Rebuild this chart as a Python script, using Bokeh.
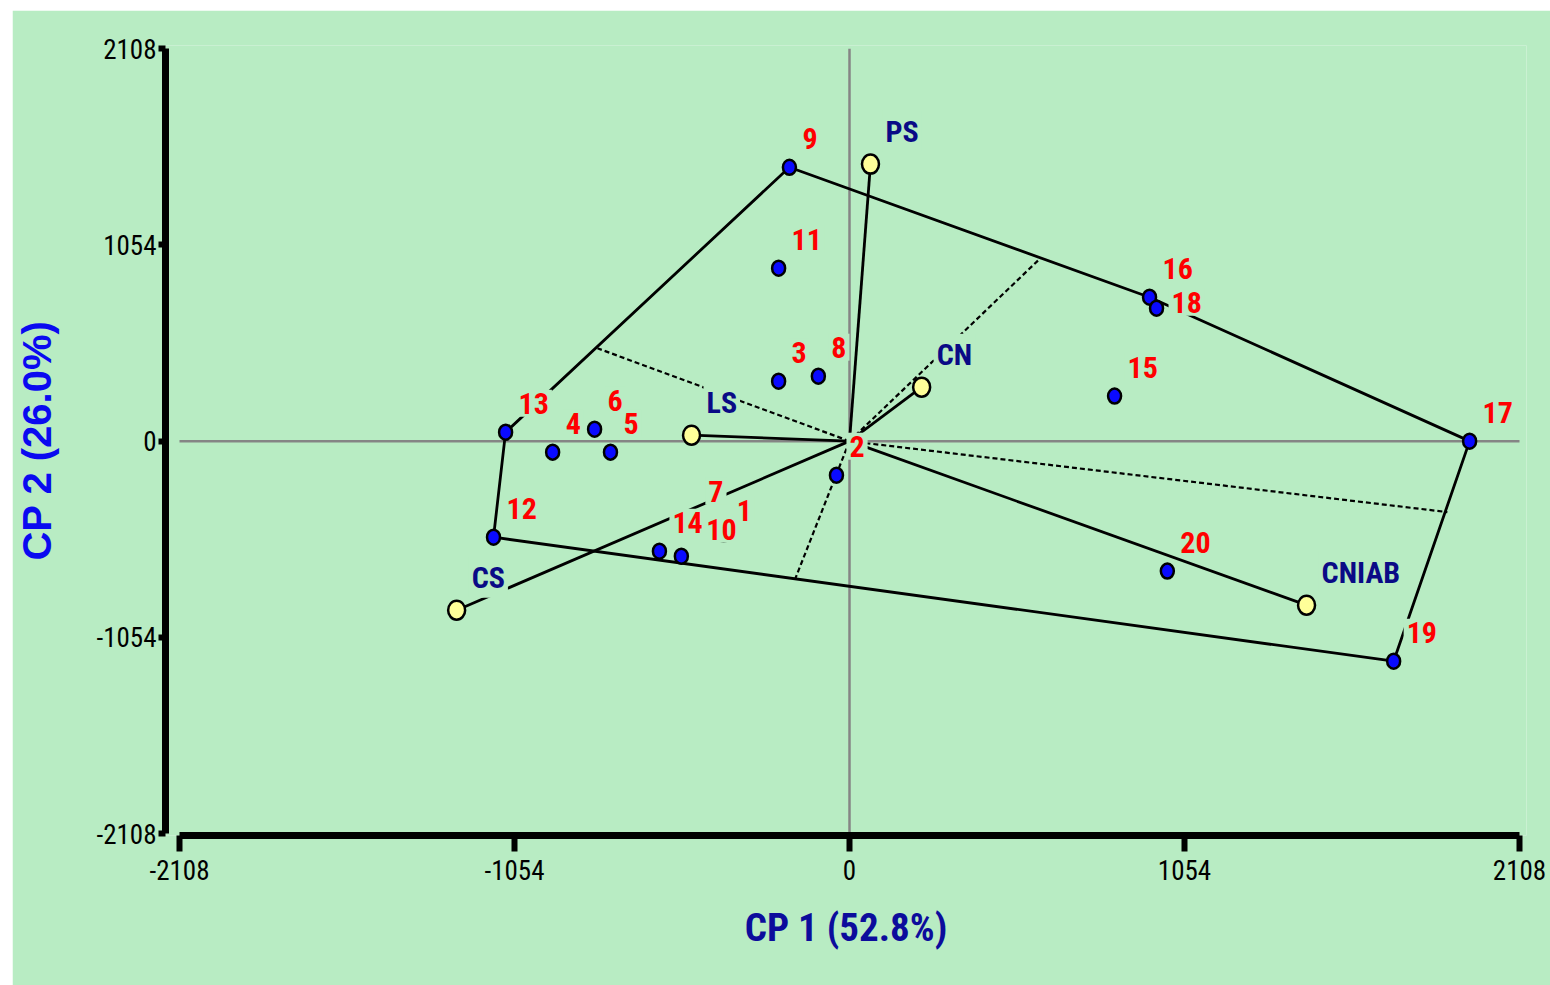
from bokeh.plotting import figure
from bokeh.models import Range1d, FixedTicker
from bokeh.core.properties import value
from bokeh.embed import file_html
from bokeh.resources import INLINE

BG = "#b8ecc3"
NARROW = "'Roboto Condensed', 'Liberation Sans Narrow', 'Liberation Sans', sans-serif"
WIDE = "'Liberation Sans', Arial, sans-serif"

# Genotypes (scores on CP1, CP2)
gen_labels = ["1", "2", "3", "4", "5", "6", "7", "8", "9", "10",
              "11", "12", "13", "14", "15", "16", "17", "18", "19", "20"]
gen_x = [-396, -41, -223, -934, -752, -802, -485, -98, -189, -529,
         -223, -1120, -1082, -598, 834, 944, 1951, 966, 1712, 1000]
gen_y = [-500, -183, 322, -59, -59, 64, -424, 349, 1471, -618,
         929, -516, 48, -591, 242, 773, 0, 714, -1182, -698]

# Environments
env_labels = ["PS", "CN", "LS", "CS", "CNIAB"]
env_x = [66, 227, -497, -1236, 1438]
env_y = [1488, 290, 32, -908, -881]

# Convex hull (polygon) vertices, by genotype label
hull = ["9", "16", "17", "19", "12", "13", "9"]

# Perpendiculars from origin to the hull sides (end points)
perp_x = [601, -793, 1881, -170]
perp_y = [983, 499, -381, -736]

ticks = [-2108, -1054, 0, 1054, 2108]
tick_text = ["-2108", "-1054", "0", "1054", "2108"]
lim = 2108

p = figure(frame_width=1361, frame_height=790,
           x_range=Range1d(-2152, 2130), y_range=Range1d(-2118, 2125),
           output_backend="svg", toolbar_location=None,
           background_fill_color=BG, border_fill_color=BG,
           min_border_left=153, min_border_top=35, min_border_right=24, min_border_bottom=150)
p.margin = (10, 0, 0, 12)
p.outline_line_color = None
p.grid.visible = False

for ax in (p.xaxis[0], p.yaxis[0]):
    ax.ticker = FixedTicker(ticks=ticks)
    ax.major_label_overrides = {t: s for t, s in zip(ticks, tick_text)}
    ax.bounds = (-lim, lim)
    ax.axis_line_width = 7
    ax.axis_line_color = "black"
    ax.major_tick_line_width = 6
    ax.major_tick_line_color = "black"
    ax.major_tick_in = 0
    ax.minor_tick_line_color = None
    ax.major_label_text_font = NARROW
    ax.major_label_text_font_size = "27px"
    ax.major_label_text_color = "black"
    ax.axis_label_text_font_style = "bold"

p.xaxis.major_tick_out = 16
p.xaxis.major_label_standoff = 8
p.yaxis.major_tick_out = 7
p.yaxis.major_label_standoff = 2

p.xaxis.axis_label = "CP 1 (52.8%)"
p.xaxis.axis_label_text_font = NARROW
p.xaxis.axis_label_text_font_size = "39px"
p.xaxis.axis_label_text_color = "#0c0c9c"
p.xaxis.axis_label_standoff = 22

p.yaxis.axis_label = "CP 2 (26.0%)"
p.yaxis.axis_label_text_font = WIDE
p.yaxis.axis_label_text_font_size = "40px"
p.yaxis.axis_label_text_color = "#0a0af0"
p.yaxis.axis_label_standoff = 34

# perpendicular dashed lines
p.segment(x0=[0] * len(perp_x), y0=[0] * len(perp_y), x1=perp_x, y1=perp_y,
          line_color="black", line_width=2.2, line_dash="5 3")

# gray reference axes through origin
p.segment(x0=[-lim, 0], y0=[0, -lim], x1=[lim, 0], y1=[0, lim],
          line_color="#858585", line_width=2.5)

# polygon
idx = {l: i for i, l in enumerate(gen_labels)}
hx = [gen_x[idx[l]] for l in hull]
hy = [gen_y[idx[l]] for l in hull]
p.line(hx, hy, line_color="black", line_width=2.8)

# environment vectors
p.segment(x0=[0] * len(env_x), y0=[0] * len(env_y), x1=env_x, y1=env_y,
          line_color="black", line_width=2.8)

# points
p.ellipse(x=gen_x, y=gen_y, width=13, height=15, width_units="screen", height_units="screen",
          fill_color="#0a0aff", line_color="black", line_width=2.5)
p.ellipse(x=env_x, y=env_y, width=17, height=19, width_units="screen", height_units="screen",
          fill_color="#ffff99", line_color="black", line_width=2.5)

# label placement (screen offsets); a few labels are moved to avoid overlaps
gx_off = [10] * len(gen_labels)
gy_off = [-29] * len(gen_labels)
gx_off[idx["18"]] = 12
gy_off[idx["18"]] = -6
gx_off[idx["10"]] = 22
gy_off[idx["10"]] = -27
gy_off[idx["1"]] = -24

p.text(x=gen_x, y=gen_y, text=gen_labels, x_offset=gx_off, y_offset=gy_off,
       text_font=value(NARROW), text_font_style="bold", text_font_size="30px",
       text_color="#ff0000", text_align="left", text_baseline="middle",
       background_fill_color=BG, padding=3)
p.text(x=env_x, y=env_y, text=env_labels, x_offset=12, y_offset=-33,
       text_font=value(NARROW), text_font_style="bold", text_font_size="30px",
       text_color="#0a0a86", text_align="left", text_baseline="middle",
       background_fill_color=BG, padding=3)

open("out.html", "w").write(file_html(p, INLINE))
